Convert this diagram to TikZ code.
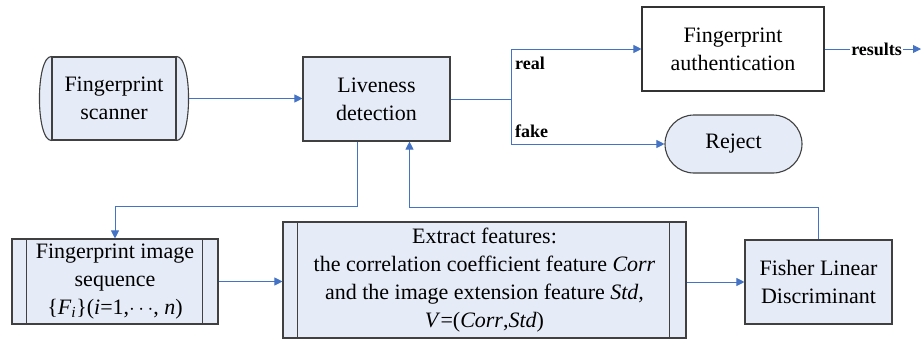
\documentclass[tikz,border=0pt]{standalone}
\usepackage{fontspec}
\setmainfont{Liberation Serif}
\usetikzlibrary{arrows.meta}
\definecolor{boxfill}{RGB}{230,236,247}
\definecolor{lineblue}{RGB}{68,114,196}
\definecolor{boxline}{RGB}{64,64,64}
\begin{document}
\begin{tikzpicture}[x=1pt,y=-1pt,
  box/.style={draw=boxline,line width=1.1pt,fill=boxfill,align=center,
    font=\fontsize{22}{28}\selectfont,inner sep=0pt},
  edge/.style={draw=boxline,line width=1.1pt},
  conn/.style={draw=lineblue,line width=0.9pt},
  arr/.style={conn,-{Triangle[length=8pt,width=8pt]}},
  lbl/.style={font=\fontsize{18}{20}\selectfont\bfseries,inner sep=1pt}]
\useasboundingbox (0,0) rectangle (922,343);

% nodes
\node[box,minimum width=124pt,minimum height=83pt] (scan) at (114,98.5) {Fingerprint\\scanner};
\filldraw[fill=boxfill,edge] (scan.north west) .. controls +(-16,0) and +(-16,0) .. (scan.south west);
\filldraw[fill=boxfill,edge] (scan.north east) .. controls +(16,0) and +(16,0) .. (scan.south east);
\coordinate (scanR) at ([xshift=12pt]scan.east);

\node[box,minimum width=147pt,minimum height=84pt] (live) at (376.5,99) {Liveness\\detection};
\node[box,fill=white,draw=black!80,minimum width=182pt,minimum height=84pt] (auth) at (733,49) {Fingerprint\\authentication};
\node[box,rounded corners=29pt,minimum width=137pt,minimum height=58pt] (reject) at (733.5,144) {Reject};

\node[box,minimum width=206pt,minimum height=85pt] (seq) at (115,281.5)
  {Fingerprint image\\sequence\\\{\textit{F}\textsubscript{\textit{i}}\}(\textit{i}=1,$\cdots$, \textit{n})};
\draw[edge] ([xshift=15pt]seq.north west) -- ([xshift=15pt]seq.south west);
\draw[edge] ([xshift=-16pt]seq.north east) -- ([xshift=-16pt]seq.south east);

\node[box,minimum width=403pt,minimum height=116pt] (ext) at (484.5,280)
  {Extract features:\\the correlation coefficient feature \textit{Corr}\\and the image extension feature \textit{Std,}\\\textit{V}=(\textit{Corr},\textit{Std})};
\draw[edge] ([xshift=15pt]ext.north west) -- ([xshift=15pt]ext.south west);
\draw[edge] ([xshift=-17pt]ext.north east) -- ([xshift=-17pt]ext.south east);

\node[box,minimum width=147pt,minimum height=84pt] (fisher) at (818.5,282) {Fisher Linear\\Discriminant};

% connectors
\draw[arr] (scanR) -- (scanR -| live.west);
\coordinate (jb) at (511,144);
\draw[conn] (live.east) -- (live.east -| jb);
\draw[arr] (jb) |- (auth.west);
\draw[arr] (jb) -- (reject.west);
\node[lbl,anchor=west] (real) at (514,63) {real};
\node[lbl,anchor=west] (fake) at (514,131) {fake};

\coordinate (out) at (921,49);
\draw[arr] (auth.east) -- node[lbl,fill=white,pos=0.54] (res) {results} (out);

\draw[arr] ([xshift=-19.5pt]live.south) -- ++(0,65) -| (seq.north);
\draw[arr] (seq.east) -- (seq.east -| ext.west);
\draw[arr] (ext.east |- fisher.west) -- (fisher.west);
\draw[arr] (fisher.north) -- ++(0,-32) -| ([xshift=33pt]live.south);
\end{tikzpicture}
\end{document}
